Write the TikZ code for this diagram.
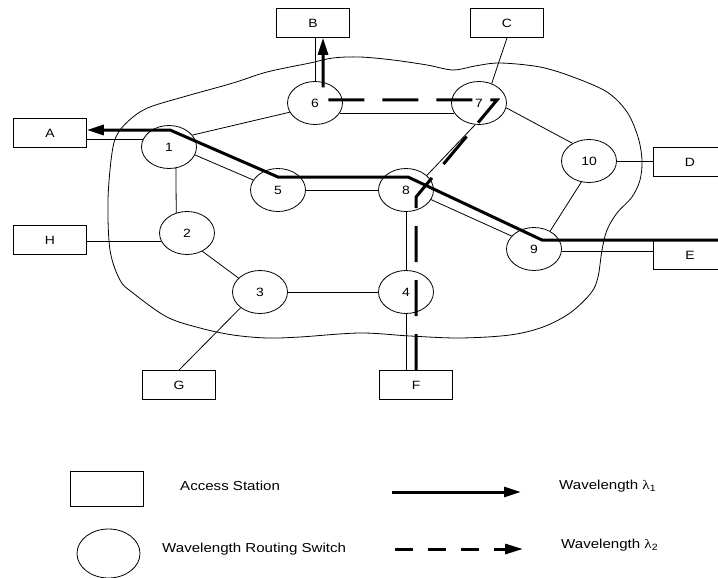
\documentclass[tikz,border=0pt]{standalone}
\usepackage{fontspec}
\setmainfont{Liberation Sans}
\newfontfamily\greekserif{Liberation Serif}
\usetikzlibrary{arrows.meta,calc,shapes.geometric}
% slightly widened lettering
\newcommand\wtext[1]{\scalebox{1.16}[1]{#1}}

\tikzset{
  station/.style={draw, rectangle, fill=white, minimum width=73pt, minimum height=29pt,
    inner sep=0pt, line width=0.8pt, font=\fontsize{12}{14}\selectfont},
  switch/.style={draw, ellipse, fill=white, minimum width=55pt, minimum height=43pt,
    inner sep=0pt, line width=0.8pt, font=\fontsize{12}{14}\selectfont},
  link/.style={line width=0.8pt},
  cloud/.style={line width=0.8pt},
  lambdaone/.style={line width=3pt, -{Triangle[length=17pt,width=10pt]}},
  lambdatwo/.style={line width=3pt, dash pattern=on 36pt off 18pt,
    -{Triangle[length=17pt,width=10pt]}},
  keydash/.style={line width=3pt, dash pattern=on 18pt off 15pt,
    -{Triangle[length=18pt,width=10pt]}},
  legendtext/.style={anchor=west, inner sep=0pt, font=\fontsize{13}{15}\selectfont}
}

\begin{document}
\begin{tikzpicture}[x=1pt, y=-1pt]
\useasboundingbox (0,0) rectangle (718,578);
\clip (0,0) rectangle (718,578);

% network boundary
\draw[cloud] plot[smooth cycle, tension=0.55] coordinates {
  (360,57) (393,60) (427,65) (453,70) (475,66) (500,63) (540,67) (573,77)
  (607,92) (627,112) (638,137) (642,160) (640,180) (632,197) (617,213)
  (607,230) (602,250) (598,277) (591,293) (570,313) (543,327) (510,335)
  (460,338) (410,336) (360,333) (300,337) (267,338) (233,335) (200,328)
  (167,317) (133,293) (120,280) (110,250) (108,200) (112,153) (118,133)
  (133,117) (150,107) (183,97) (233,83) (267,72) (310,63) (333,58)};

% wavelength routing switches
\node[switch] (n1) at (169,147) {\wtext{1}};
\node[switch] (n2) at (187,233) {\wtext{2}};
\node[switch] (n3) at (260,292) {\wtext{3}};
\node[switch] (n4) at (406,292) {\wtext{4}};
\node[switch] (n5) at (278,190) {\wtext{5}};
\node[switch] (n6) at (315,103) {\wtext{6}};
\node[switch] (n7) at (479,103) {\wtext{7}};
\node[switch] (n8) at (406,190) {\wtext{8}};
\node[switch] (n9) at (534,249) {\wtext{9}};
\node[switch] (n10) at (589,161) {\wtext{10}};

% access stations
\node[station] (A) at (50,133) {\wtext{A}};
\node[station] (B) at (313,23) {\wtext{B}};
\node[station] (C) at (507,23) {\wtext{C}};
\node[station] (D) at (690,162) {\wtext{D}};
\node[station] (E) at (690,255) {\wtext{E}};
\node[station] (F) at (416,385) {\wtext{F}};
\node[station] (G) at (179,385) {\wtext{G}};
\node[station] (H) at (50,240) {\wtext{H}};

% fibre links
\draw[link] (A.east |- n1.163) -- (n1.163);
\draw[link] (n1.27) -- (n6.200);
\draw[link] (n1.343) -- (n5.158);
\draw[link] (n1.288) -- (n2.118);
\draw[link] (H.east |- n2.197) -- (n2.197);
\draw[link] (n2.310) -- (n3.147);
\draw[link] (n3.east) -- (n4.west);
\draw[link] (n3.219) -- (G.north);
\draw[link] (n5.east) -- (n8.west);
\draw[link] (n6.338) -- (n7.202);
\draw[link] (n6.north) -- (B.south -| n6.north);
\draw[link] (n7.57) -- (C.south);
\draw[link] (n7.350) -- (n10.133);
\draw[link] (n7.260) -- (n8.35);
\draw[link] (n8.339) -- (n9.150);
\draw[link] (n8.south) -- (n4.north);
\draw[link] (n4.south) -- (n4.south |- F.north);
\draw[link] (n10.east) -- (D.west |- n10.east);
\draw[link] (n10.250) -- (n9.48);
\draw[link] (n9.355) -- (E.west |- n9.355);

% lightpath on wavelength 1: E to A
\coordinate (e1) at ($(n9)+(8,-9)$);
\coordinate (e2) at ($(n8)+(2,-13)$);
\coordinate (e3) at ($(n5)+(0,-13)$);
\coordinate (e4) at ($(n1)+(1,-17)$);
\draw[lambdaone] (E.north east) -- (e1) -- (e2) -- (e3) -- (e4) -- (A.east |- e4);

% lightpath on wavelength 2: F to B
\coordinate (d1) at ($(n8)+(10,7)$);
\coordinate (d2) at ($(n7)+(18,-3)$);
\coordinate (d3) at ($(n6)+(8,-3)$);
\draw[lambdatwo] (F.north -| d1) -- (d1) -- (d2) -- (d3) -- (B.south -| d3);

% legend
\node[station, minimum height=35pt] (keybox) at (106.5,488.5) {};
\node[draw, ellipse, minimum width=63pt, minimum height=49pt, inner sep=0pt,
  line width=0.8pt] (keyswitch) at (108.5,553.5) {};
\node[legendtext] (keyboxtext) at (180,486) {\wtext{Access Station}};
\node[legendtext] (keyswitchtext) at (162,549) {\wtext{Wavelength Routing Switch}};
\node[legendtext] (keyonetext) at (559,486) {\wtext{Wavelength {\greekserif λ}\textsubscript{1}}};
\node[legendtext] (keytwotext) at (561,545) {\wtext{Wavelength {\greekserif λ}\textsubscript{2}}};
\coordinate (k1s) at (392,492);
\coordinate (k1e) at (521,492);
\coordinate (k2s) at (395,549);
\coordinate (k2e) at (523,549);
\draw[lambdaone] (k1s) -- (k1e);
\draw[keydash] (k2s) -- (k2e);
\end{tikzpicture}
\end{document}
